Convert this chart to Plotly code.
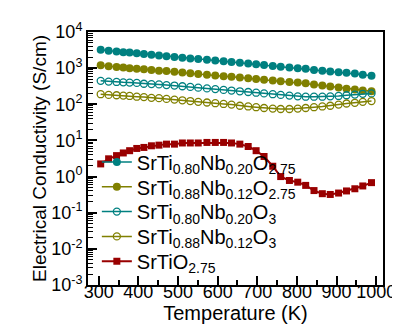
import plotly.graph_objects as go

temperature = [305, 325, 345, 362, 378, 396, 414, 433, 452, 471, 491, 511, 531, 551, 573, 594, 615, 635,
               656, 677, 697, 717, 739, 759, 781, 802, 822, 843, 864, 884, 905, 925, 946, 966, 988]

sigma_nb20_o275 = [3240, 3020, 2880, 2750, 2690, 2570, 2450, 2340, 2240, 2140, 2040, 1950, 1860, 1780, 1700,
                   1620, 1550, 1480, 1410, 1350, 1290, 1230, 1150, 1100, 1050, 1000, 955, 890, 850, 810,
                   775, 740, 710, 660, 620]
sigma_nb12_o275 = [1200, 1120, 1070, 1050, 1000, 955, 930, 890, 850, 830, 795, 760, 725, 690, 660, 630, 600,
                   575, 550, 525, 500, 480, 455, 435, 415, 400, 380, 355, 330, 310, 290, 270, 255, 240, 230]
sigma_nb20_o3 = [445, 425, 415, 405, 398, 390, 370, 362, 355, 340, 330, 316, 302, 288, 275, 263, 250, 240,
                 229, 219, 209, 200, 190, 182, 174, 166, 162, 162, 162, 166, 170, 178, 186, 195, 200]
sigma_nb12_o3 = [190, 182, 178, 174, 170, 162, 158, 151, 148, 141, 135, 129, 123, 117, 112, 107, 102, 98,
                 91, 87, 83, 79, 76, 74, 74, 76, 79, 83, 87, 91, 98, 105, 110, 117, 123]
sigma_sto_o275 = [2.24, 3.1, 3.8, 4.5, 5.2, 6.0, 6.4, 7.1, 7.4, 7.9, 7.9, 8.5, 8.5, 8.5, 8.8, 8.8, 8.8, 8.5,
                  7.9, 6.8, 5.2, 3.6, 1.93, 1.0, 0.78, 0.70, 0.57, 0.41, 0.336, 0.32, 0.35, 0.40, 0.46,
                  0.55, 0.68]

series_names = [
    "SrTi<sub>0.80</sub>Nb<sub>0.20</sub>O<sub>2.75</sub>",
    "SrTi<sub>0.88</sub>Nb<sub>0.12</sub>O<sub>2.75</sub>",
    "SrTi<sub>0.80</sub>Nb<sub>0.20</sub>O<sub>3</sub>",
    "SrTi<sub>0.88</sub>Nb<sub>0.12</sub>O<sub>3</sub>",
    "SrTiO<sub>2.75</sub>",
]

x_ticks = [300, 400, 500, 600, 700, 800, 900, 1000]
x_minor_ticks = [350, 450, 550, 650, 750, 850, 950]
y_exponents = [-3, -2, -1, 0, 1, 2, 3, 4]
y_ticks = [10.0 ** e for e in y_exponents]
y_ticktext = ["10<sup>%d</sup>" % e for e in y_exponents]
y_minor_ticks = [m * 10.0 ** e for e in y_exponents[:-1] for m in range(2, 10)]

TEAL = "#008080"
OLIVE = "#808000"
RED = "#990000"

fig = go.Figure()

styles = [
    (sigma_nb20_o275, TEAL, "circle", 8, 1.5),
    (sigma_nb12_o275, OLIVE, "circle", 8, 1.5),
    (sigma_nb20_o3, TEAL, "circle-open", 7, 1.5),
    (sigma_nb12_o3, OLIVE, "circle-open", 7, 1.5),
    (sigma_sto_o275, RED, "square", 7, 2),
]

legend_ids = ["legend", "legend2", "legend3", "legend4", "legend5"]

for name, (vals, col, sym, sz, lw), lid in zip(series_names, styles, legend_ids):
    fig.add_trace(go.Scatter(
        x=temperature, y=vals, name=name, mode="lines+markers",
        line=dict(color=col, width=lw), legend=lid,
        marker=dict(color=col, symbol=sym, size=sz,
                    line=dict(color=col, width=1.3 if "open" in sym else 0)),
    ))

fig.add_trace(go.Scatter(x=[None], y=[None], xaxis="x2", yaxis="y2",
                         showlegend=False, hoverinfo="skip"))

font_family = "Arial, Liberation Sans, sans-serif"

# one legend box per entry, so the entry spacing matches the reference
plot_top, plot_bottom = 22, 277
entry_centres_px = [153, 178, 203, 228, 253]
legend_layout = {}
for lid, ypx in zip(legend_ids, entry_centres_px):
    legend_layout[lid] = dict(
        x=0.03, y=(plot_bottom - ypx) / (plot_bottom - plot_top),
        xanchor="left", yanchor="middle",
        bgcolor="rgba(0,0,0,0)", font=dict(size=20, family=font_family, color="black"),
        itemwidth=30,
    )

fig.update_layout(
    width=400, height=331,
    margin=dict(l=80, r=13, t=22, b=54),
    paper_bgcolor="white", plot_bgcolor="white",
    font=dict(family=font_family, size=15, color="black"),
    showlegend=True,
    **legend_layout,
    xaxis=dict(
        range=[273, 1017], tickvals=x_ticks, ticktext=[str(v) for v in x_ticks],
        ticks="inside", ticklen=9, tickwidth=1.5, tickcolor="black",
        showline=True, linecolor="black", linewidth=2, mirror=True,
        showgrid=False, zeroline=False,
        tickfont=dict(size=18), ticklabelstandoff=-11,
        title=dict(text="Temperature (K)", font=dict(size=20), standoff=4),
    ),
    yaxis=dict(
        type="log", range=[-3, 4], tickvals=y_ticks, ticktext=y_ticktext,
        ticks="inside", ticklen=9, tickwidth=1.5, tickcolor="black",
        showline=True, linecolor="black", linewidth=2, mirror=True,
        showgrid=False, zeroline=False,
        tickfont=dict(size=18),
        title=dict(text="Electrical Conductivity (S/cm)", font=dict(size=19), standoff=0),
    ),
    xaxis2=dict(
        overlaying="x", range=[273, 1017], tickvals=x_minor_ticks, showticklabels=False,
        ticks="inside", ticklen=5, tickwidth=1.5, tickcolor="black",
        showgrid=False, zeroline=False, showline=False, side="bottom",
    ),
    yaxis2=dict(
        overlaying="y", type="log", range=[-3, 4], tickvals=y_minor_ticks, showticklabels=False,
        ticks="inside", ticklen=5, tickwidth=1, tickcolor="black",
        showgrid=False, zeroline=False, showline=False, side="left",
    ),
)

fig.write_html("out.html")
